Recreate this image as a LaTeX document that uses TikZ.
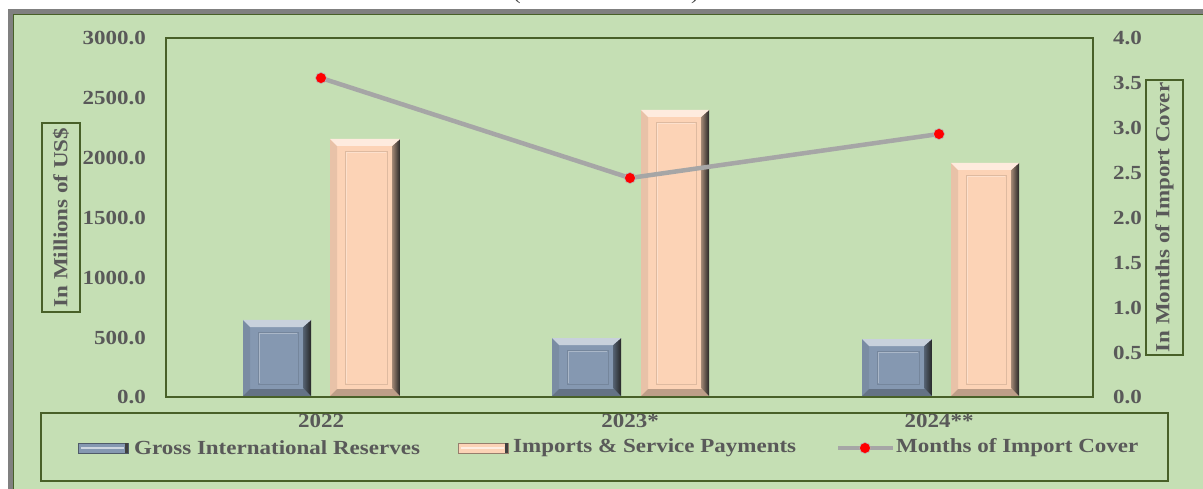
\documentclass[tikz,border=0pt]{standalone}
\usepackage{fontspec}
\setmainfont{Liberation Serif}[FakeStretch=1.15]
\definecolor{bg}{RGB}{197,223,180}
\definecolor{frame}{RGB}{72,96,40}
\definecolor{txt}{RGB}{89,89,89}
\definecolor{barblue}{RGB}{133,152,177}
\definecolor{barpeach}{RGB}{252,211,182}
\definecolor{linegray}{RGB}{166,166,166}
\tikzset{
  lab/.style={text=txt, font=\bfseries\fontsize{20}{22}\selectfont, inner sep=0pt},
  titlebox/.style={lab, draw=frame, line width=1.5pt, rotate=90},
  marker/.style={circle, fill=red, draw=linegray!80, line width=0.6pt, inner sep=0pt, minimum size=11pt},
}
\newcommand\bevbar[4]{%
  \fill[#4] (#1,396) rectangle (#2,#3);
  \fill[#4!92!black] (#1,#3) -- (#1+7,#3+7) -- (#1+7,389) -- (#1,396) -- cycle;
  \fill[#4!75!black] (#1,396) -- (#2,396) -- (#2-7,389) -- (#1+7,389) -- cycle;
  \shade[left color=#4!65!black, right color=black!85] (#2,#3) -- (#2,396) -- (#2-8,388) -- (#2-8,#3+7) -- cycle;
  \fill[#4!45!white] (#1,#3) -- (#2,#3) -- (#2-8,#3+7) -- (#1+7,#3+7) -- cycle;
  \draw[#4!88!black, line width=0.9pt] (#1+15,#3+12) rectangle (#2-13,384);
  \draw[#4!70!white, line width=0.7pt] (#1+16,#3+13) -- (#2-14,#3+13) (#1+16,#3+13) -- (#1+16,383);
}
\newcommand\legswatch[3]{%
  \fill[#3] (#1,443) rectangle (#2,453);
  \draw[#3!60!black, line width=0.8pt] (#1,443) rectangle (#2,453);
  \draw[#3!40!white, line width=1.2pt] (#1+3,448) -- (#2-4,448);
  \fill[black!75] (#2-3,443) rectangle (#2,453);
}
\begin{document}
\begin{tikzpicture}[x=1pt,y=-1pt]
\useasboundingbox (0,0) rectangle (1203,489);
% outer frame
\fill[bg] (12,12) rectangle (1230,520);
\draw[gray, line width=5pt] (10.5,11.5) rectangle (1230,520);
\draw[frame, line width=1.2pt] (13.6,14.2) rectangle (1228,518);
% cut title parentheses
\node[anchor=base, text=black!75, font=\fontsize{20}{22}\selectfont, inner sep=0pt] (tp1) at (517,-0.5) {(};
\node[anchor=base, text=black!75, font=\fontsize{20}{22}\selectfont, inner sep=0pt] (tp2) at (695,-0.5) {)};
% plot area
\draw[frame, line width=2pt] (166,38) rectangle (1093,397);
% bars
\bevbar{243}{311}{320}{barblue}
\bevbar{330}{400}{139}{barpeach}
\bevbar{552}{621}{338}{barblue}
\bevbar{641}{709}{110}{barpeach}
\bevbar{862}{932}{339}{barblue}
\bevbar{951}{1019}{163}{barpeach}
\draw[frame, line width=2pt] (166,397) -- (1093,397);
% left axis
\foreach \v/\y [count=\i] in {3000.0/38,2500.0/98,2000.0/158,1500.0/218,1000.0/278,500.0/338,0.0/397}
  \node[lab, anchor=east] (yl\i) at (146,\y) {\v};
% right axis
\foreach \v/\y [count=\i] in {4.0/38,3.5/83,3.0/128,2.5/173,2.0/218,1.5/263,1.0/308,0.5/353,0.0/397}
  \node[lab, anchor=west] (yr\i) at (1113,\y) {\v};
% axis titles
\node[titlebox, minimum width=189pt, minimum height=38pt] (lt) at (61,217.5) {In Millions of US\$};
\node[titlebox, minimum width=275pt, minimum height=37pt] (rt) at (1164.5,217.5) {In Months of Import Cover};
% line series
\coordinate (p1) at (321,78);
\coordinate (p2) at (630,178);
\coordinate (p3) at (939,134);
\draw[linegray, line width=4.5pt] (p1) -- (p2) -- (p3);
\node[marker] (m1) at (p1) {};
\node[marker] (m2) at (p2) {};
\node[marker] (m3) at (p3) {};
% legend
\draw[frame, line width=2pt] (41,413) rectangle (1168,481);
\legswatch{78}{128}{barblue}
\node[lab, anchor=west] (lg1) at (134,448) {Gross International Reserves};
\legswatch{458}{508}{barpeach}
\node[lab, anchor=west] (lg2) at (513,448) {Imports \& Service Payments};
\coordinate (ls1) at (838,448);
\coordinate (ls2) at (893,448);
\draw[linegray, line width=4.5pt] (ls1) -- (ls2);
\node[marker] (lm) at (865,448) {};
\node[lab, anchor=west] (lg3) at (896,448) {Months of Import Cover};
% category labels
\node[lab] (c1) at (321,421) {2022};
\node[lab] (c2) at (630,421) {2023*};
\node[lab] (c3) at (939,421) {2024**};
\end{tikzpicture}
\end{document}
